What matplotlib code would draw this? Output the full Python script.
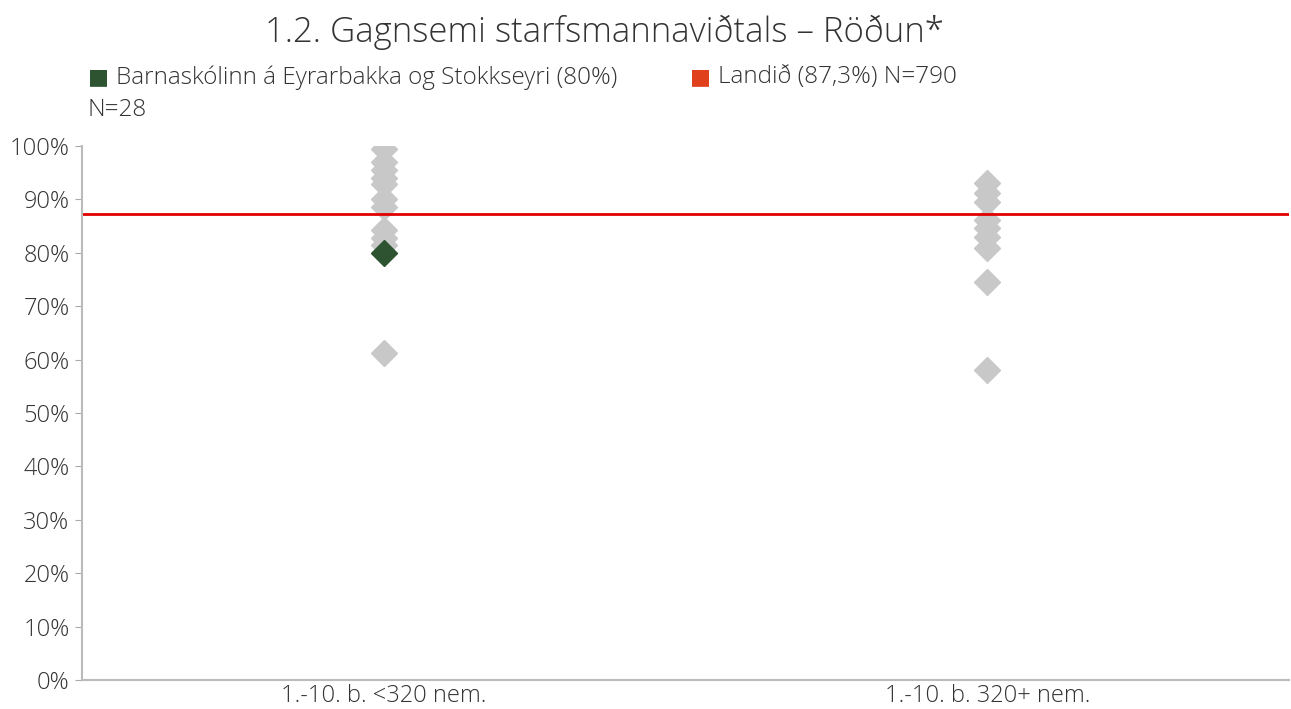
import matplotlib.pyplot as plt

plt.rcParams['font.family'] = ['Open Sans', 'DejaVu Sans']
plt.rcParams['font.weight'] = 'light'

# Gögn
flokkar = ['1.-10. b. <320 nem.', '1.-10. b. 320+ nem.']
skolar_litlir = [99.5, 97, 95.5, 94, 92.8, 90, 88.6, 84.2, 82.8, 81.5, 61.2]
skolar_storir = [93.1, 91.2, 89.6, 86.1, 84.6, 83.0, 80.9, 74.6, 58.1]
skolinn = 80.0
landid = 87.3

fig = plt.figure(figsize=(12.91, 7.09), dpi=100)
ax = fig.add_axes([0.0635, 0.041, 0.935, 0.753])

grar = '#c8c8c8'
ax.plot([0] * len(skolar_litlir), skolar_litlir, 'D', color=grar, markersize=13, linestyle='none')
ax.plot([1] * len(skolar_storir), skolar_storir, 'D', color=grar, markersize=13, linestyle='none')
ax.plot([0], [skolinn], 'D', color='#2d5330', markersize=13, linestyle='none')
ax.axhline(landid, color='#e00000', linewidth=2)

ax.set_xlim(-0.5, 1.5)
ax.set_ylim(0, 100)
ax.set_yticks(range(0, 101, 10))
ax.set_yticklabels([f'{v}%' for v in range(0, 101, 10)], fontsize=17, color='#333333')
ax.set_xticks([0, 1])
ax.set_xticklabels(flokkar, fontsize=17, color='#333333')
ax.tick_params(axis='x', length=0, pad=3)
ax.tick_params(axis='y', length=5, color='#aaaaaa', pad=4)

for s in ['top', 'right']:
    ax.spines[s].set_visible(False)
ax.spines['left'].set_color('#bbbbbb')
ax.spines['bottom'].set_color('#bbbbbb')
ax.spines['left'].set_linewidth(1.5)
ax.spines['bottom'].set_linewidth(1.5)

fig.text(0.468, 0.955, '1.2. Gagnsemi starfsmannaviðtals – Röðun*', fontsize=25,
         ha='center', va='center', color='#333333')

fig.text(0.0685, 0.891, '■', fontsize=16, color='#2d5330', ha='left', va='center',
         family='DejaVu Sans', fontweight='normal')
fig.text(0.09, 0.891, 'Barnaskólinn á Eyrarbakka og Stokkseyri (80%)', fontsize=17.5,
         color='#333333', ha='left', va='center')
fig.text(0.068, 0.845, 'N=28', fontsize=17.5, color='#333333', ha='left', va='center')
fig.text(0.5345, 0.891, '■', fontsize=16, color='#e0401c', ha='left', va='center',
         family='DejaVu Sans', fontweight='normal')
fig.text(0.556, 0.891, 'Landið (87,3%) N=790', fontsize=17.5, color='#333333',
         ha='left', va='center')

fig.savefig('out.png', dpi=100)
